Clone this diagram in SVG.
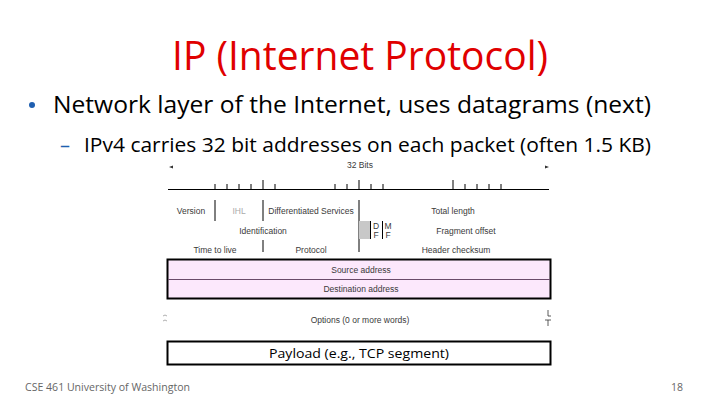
<svg xmlns="http://www.w3.org/2000/svg" width="720" height="405" viewBox="0 0 720 405">
<style>
.f{font-family:"Liberation Sans",Arial,sans-serif;font-size:8.5px;fill:#3a3a3a;text-anchor:middle}
.c{font-family:"Open Sans","Liberation Sans",sans-serif}
.ln{stroke:#000;stroke-width:1;fill:none}
</style>
<rect width="720" height="405" fill="#fff"/>
<text class="c" x="360" y="70" font-size="40" fill="#E00000" text-anchor="middle" textLength="376" lengthAdjust="spacingAndGlyphs">IP (Internet Protocol)</text>
<circle cx="32" cy="105" r="3" fill="#1F5FB0"/>
<text class="c" x="53" y="113" font-size="23" fill="#000" textLength="598" lengthAdjust="spacingAndGlyphs">Network layer of the Internet, uses datagrams (next)</text>
<text class="c" x="60" y="152" font-size="20" fill="#1F5FB0">–</text>
<text class="c" x="84" y="152" font-size="20" fill="#000" textLength="567" lengthAdjust="spacingAndGlyphs">IPv4 carries 32 bit addresses on each packet (often 1.5 KB)</text>

<g id="header">
<text class="f" x="360" y="168">32 Bits</text>
<path d="M169 167 L173 165.5 L173 168.5 Z M549 167 L545 165.5 L545 168.5 Z" fill="#333"/>
<path class="ln" d="M168 189.5 H549 M215 184 V189 M227 184 V189 M239 184 V189 M251 184 V189 M263 180 V189 M275 184 V189 M335 184 V189 M347 184 V189 M359 180 V189 M371 184 V189 M383 184 V189 M453 180 V189 M465 184 V189 M477 184 V189 M489 184 V189 M501 184 V189"/>
</g>

<g id="fields">
<path class="ln" d="M215 200 V221 M263 200 V221 M359 200 V252 M263 240 V252 M370.5 221 V239 M382.5 221 V239"/>
<rect x="359" y="221" width="11" height="18" fill="#c8c8c8"/>
<text class="f" x="191" y="214">Version</text>
<text class="f" x="239" y="214" style="fill:#aaa">IHL</text>
<text class="f" x="311" y="214">Differentiated Services</text>
<text class="f" x="453" y="214">Total length</text>
<text class="f" x="263" y="234">Identification</text>
<text class="f" x="376" y="229">D</text>
<text class="f" x="376" y="238">F</text>
<text class="f" x="388" y="229">M</text>
<text class="f" x="388" y="238">F</text>
<text class="f" x="466" y="234">Fragment offset</text>
<text class="f" x="215" y="253">Time to live</text>
<text class="f" x="311" y="253">Protocol</text>
<text class="f" x="456" y="253">Header checksum</text>
</g>

<g id="addresses">
<rect x="167.5" y="259.5" width="383" height="39" fill="#FCE8FC" stroke="#000" stroke-width="2"/>
<line x1="168" y1="279.5" x2="550" y2="279.5" stroke="#6a4a6a" stroke-width="1"/>
<text class="f" x="361" y="273">Source address</text>
<text class="f" x="361" y="292">Destination address</text>
</g>

<g id="options">
<text class="f" x="360" y="323">Options (0 or more words)</text>
<path d="M163 316 q2 -2 4 0 M163 321 q2 -2 4 0" stroke="#999" stroke-width="0.8" fill="none"/>
<path d="M548 310 V316 H551 M545 320 H551 M548 320 V326" stroke="#333" stroke-width="0.8" fill="none"/>
</g>

<g id="payload">
<rect x="167.5" y="341.5" width="383" height="23" fill="#fff" stroke="#000" stroke-width="2"/>
<text class="c" x="359" y="357.5" font-size="12.5" fill="#000" text-anchor="middle" textLength="180" lengthAdjust="spacingAndGlyphs">Payload (e.g., TCP segment)</text>
</g>

<text class="c" x="25" y="391" font-size="10.5" fill="#666" textLength="165" lengthAdjust="spacingAndGlyphs">CSE 461 University of Washington</text>
<text class="c" x="683" y="391" font-size="10.5" fill="#666" text-anchor="end">18</text>
</svg>
